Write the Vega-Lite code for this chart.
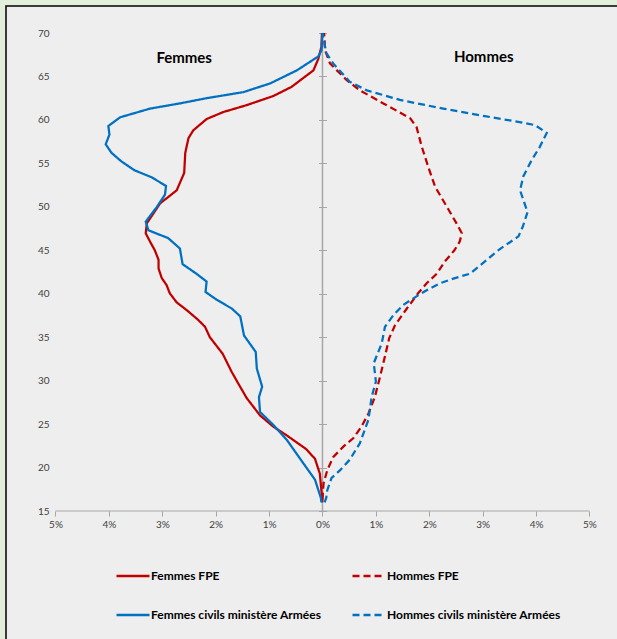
{
  "$schema": "https://vega.github.io/schema/vega-lite/v6.json",
  "width": 616,
  "height": 639,
  "autosize": {"type": "none"},
  "padding": {"left": 6, "top": 6, "right": -5, "bottom": -6},
  "background": "#e2efda",
  "config": {
    "font": "Lato",
    "view": {"fill": "#eeeeee", "stroke": "#000000", "strokeWidth": 1.5},
    "axis": {"grid": false, "labelFont": "Lato", "labelFontSize": 10, "labelColor": "#404040", "tickColor": "#a6a6a6", "domainColor": "#a6a6a6", "title": null},
    "axisX": {"offset": -134, "domain": false, "ticks": true, "tickSize": 5, "tickWidth": 1, "values": [-5, -4, -3, -2, -1, 0, 1, 2, 3, 4, 5], "labelExpr": "abs(datum.value) + '%'", "labelPadding": 3, "labelFlush": false, "labelOverlap": false},
    "legend": {"orient": "none", "legendX": 109, "legendY": 552, "columns": 2, "columnPadding": 25, "rowPadding": 15, "symbolSize": 1089, "symbolStrokeWidth": 2.5, "symbolType": "stroke", "labelFont": "Lato", "labelFontSize": 12, "labelFontWeight": "bold", "labelColor": "#000000", "labelLimit": 300, "labelOffset": 0, "padding": 0}
  },
  "resolve": {"axis": {"y": "independent"}},
  "layer": [
    {
      "data": {"values": [{"x": 0, "ya": 15, "yb": 70}]},
      "mark": {"type": "rule", "color": "#a6a6a6", "strokeWidth": 1.5},
      "encoding": {
        "x": {"field": "x", "type": "quantitative", "scale": {"domain": [-5.927, 5.609], "nice": false, "zero": false}},
        "y": {"field": "ya", "type": "quantitative", "scale": {"domain": [-0.418, 73.107], "nice": false, "zero": false},
          "axis": {"orient": "left", "offset": -50, "domain": false, "ticks": false, "labelPadding": 7, "values": [15, 20, 25, 30, 35, 40, 45, 50, 55, 60, 65, 70]}},
        "y2": {"field": "yb"}
      }
    },
    {
      "data": {"values": [{"xa": -5, "xb": 5, "y": 15}]},
      "mark": {"type": "rule", "color": "#a6a6a6", "strokeWidth": 1},
      "encoding": {
        "x": {"field": "xa", "type": "quantitative"},
        "x2": {"field": "xb"},
        "y": {"field": "y", "type": "quantitative",
          "axis": {"orient": "left", "offset": -316.5, "domain": false, "labels": false, "ticks": true, "tickSize": 4, "values": [15, 20, 25, 30, 35, 40, 45, 50, 55, 60, 65, 70]}}
      }
    },
    {
      "data": {"values": [
        {"label": "Femmes", "x": -2.59, "y": 67.1},
        {"label": "Hommes", "x": 3.02, "y": 67.2}
      ]},
      "mark": {"type": "text", "fontSize": 15, "fontWeight": "bold", "color": "#000000", "font": "Lato"},
      "encoding": {
        "x": {"field": "x", "type": "quantitative"},
        "y": {"field": "y", "type": "quantitative",
          "axis": {"orient": "right", "offset": -299.5, "domain": false, "labels": false, "ticks": true, "tickSize": 4, "values": [15, 20, 25, 30, 35, 40, 45, 50, 55, 60, 65, 70]}},
        "text": {"field": "label"}
      }
    },
    {
      "data": {"values": [
        {"serie": "Femmes FPE", "age": 70, "pct": -0.01},
        {"serie": "Femmes FPE", "age": 68.4, "pct": -0.02},
        {"serie": "Femmes FPE", "age": 67, "pct": -0.08},
        {"serie": "Femmes FPE", "age": 65.7, "pct": -0.17},
        {"serie": "Femmes FPE", "age": 63.8, "pct": -0.58},
        {"serie": "Femmes FPE", "age": 62.75, "pct": -0.92},
        {"serie": "Femmes FPE", "age": 61.7, "pct": -1.42},
        {"serie": "Femmes FPE", "age": 60.9, "pct": -1.86},
        {"serie": "Femmes FPE", "age": 60.1, "pct": -2.17},
        {"serie": "Femmes FPE", "age": 58.8, "pct": -2.42},
        {"serie": "Femmes FPE", "age": 57.9, "pct": -2.51},
        {"serie": "Femmes FPE", "age": 56.2, "pct": -2.57},
        {"serie": "Femmes FPE", "age": 53.9, "pct": -2.59},
        {"serie": "Femmes FPE", "age": 51.9, "pct": -2.73},
        {"serie": "Femmes FPE", "age": 50.4, "pct": -3.04},
        {"serie": "Femmes FPE", "age": 48.1, "pct": -3.29},
        {"serie": "Femmes FPE", "age": 46.95, "pct": -3.31},
        {"serie": "Femmes FPE", "age": 46.0, "pct": -3.23},
        {"serie": "Femmes FPE", "age": 45.0, "pct": -3.14},
        {"serie": "Femmes FPE", "age": 43.9, "pct": -3.07},
        {"serie": "Femmes FPE", "age": 42.9, "pct": -3.07},
        {"serie": "Femmes FPE", "age": 41.8, "pct": -3.01},
        {"serie": "Femmes FPE", "age": 41.0, "pct": -2.92},
        {"serie": "Femmes FPE", "age": 40.05, "pct": -2.86},
        {"serie": "Femmes FPE", "age": 39.0, "pct": -2.73},
        {"serie": "Femmes FPE", "age": 38.1, "pct": -2.54},
        {"serie": "Femmes FPE", "age": 37.0, "pct": -2.33},
        {"serie": "Femmes FPE", "age": 36.2, "pct": -2.2},
        {"serie": "Femmes FPE", "age": 35.0, "pct": -2.11},
        {"serie": "Femmes FPE", "age": 33.1, "pct": -1.87},
        {"serie": "Femmes FPE", "age": 31.0, "pct": -1.7},
        {"serie": "Femmes FPE", "age": 29.7, "pct": -1.58},
        {"serie": "Femmes FPE", "age": 28.0, "pct": -1.42},
        {"serie": "Femmes FPE", "age": 26.0, "pct": -1.17},
        {"serie": "Femmes FPE", "age": 24.7, "pct": -0.92},
        {"serie": "Femmes FPE", "age": 23.7, "pct": -0.67},
        {"serie": "Femmes FPE", "age": 22.1, "pct": -0.3},
        {"serie": "Femmes FPE", "age": 21.0, "pct": -0.14},
        {"serie": "Femmes FPE", "age": 19.3, "pct": -0.05},
        {"serie": "Femmes FPE", "age": 16.0, "pct": 0.0},

        {"serie": "Hommes FPE", "age": 70, "pct": 0.03},
        {"serie": "Hommes FPE", "age": 68, "pct": 0.05},
        {"serie": "Hommes FPE", "age": 66.5, "pct": 0.14},
        {"serie": "Hommes FPE", "age": 64.6, "pct": 0.45},
        {"serie": "Hommes FPE", "age": 63.4, "pct": 0.7},
        {"serie": "Hommes FPE", "age": 61.9, "pct": 1.14},
        {"serie": "Hommes FPE", "age": 60.2, "pct": 1.64},
        {"serie": "Hommes FPE", "age": 59.2, "pct": 1.76},
        {"serie": "Hommes FPE", "age": 56.9, "pct": 1.86},
        {"serie": "Hommes FPE", "age": 54.6, "pct": 1.98},
        {"serie": "Hommes FPE", "age": 52.3, "pct": 2.11},
        {"serie": "Hommes FPE", "age": 50.0, "pct": 2.33},
        {"serie": "Hommes FPE", "age": 48.1, "pct": 2.51},
        {"serie": "Hommes FPE", "age": 46.95, "pct": 2.61},
        {"serie": "Hommes FPE", "age": 46.0, "pct": 2.57},
        {"serie": "Hommes FPE", "age": 45.0, "pct": 2.47},
        {"serie": "Hommes FPE", "age": 43.7, "pct": 2.29},
        {"serie": "Hommes FPE", "age": 42.3, "pct": 2.14},
        {"serie": "Hommes FPE", "age": 41.2, "pct": 1.95},
        {"serie": "Hommes FPE", "age": 40.05, "pct": 1.79},
        {"serie": "Hommes FPE", "age": 38.3, "pct": 1.58},
        {"serie": "Hommes FPE", "age": 36.4, "pct": 1.36},
        {"serie": "Hommes FPE", "age": 34.9, "pct": 1.25},
        {"serie": "Hommes FPE", "age": 32.8, "pct": 1.17},
        {"serie": "Hommes FPE", "age": 30.5, "pct": 1.08},
        {"serie": "Hommes FPE", "age": 28.1, "pct": 0.98},
        {"serie": "Hommes FPE", "age": 26.2, "pct": 0.86},
        {"serie": "Hommes FPE", "age": 24.7, "pct": 0.73},
        {"serie": "Hommes FPE", "age": 23.4, "pct": 0.58},
        {"serie": "Hommes FPE", "age": 22.4, "pct": 0.39},
        {"serie": "Hommes FPE", "age": 21.2, "pct": 0.2},
        {"serie": "Hommes FPE", "age": 19.7, "pct": 0.09},
        {"serie": "Hommes FPE", "age": 18.2, "pct": 0.02},
        {"serie": "Hommes FPE", "age": 16.3, "pct": 0.0},

        {"serie": "Femmes civils ministère Armées", "age": 70, "pct": 0.0},
        {"serie": "Femmes civils ministère Armées", "age": 68, "pct": -0.02},
        {"serie": "Femmes civils ministère Armées", "age": 67.3, "pct": -0.08},
        {"serie": "Femmes civils ministère Armées", "age": 65.7, "pct": -0.48},
        {"serie": "Femmes civils ministère Armées", "age": 64.2, "pct": -0.98},
        {"serie": "Femmes civils ministère Armées", "age": 63.2, "pct": -1.48},
        {"serie": "Femmes civils ministère Armées", "age": 62.5, "pct": -2.17},
        {"serie": "Femmes civils ministère Armées", "age": 61.9, "pct": -2.67},
        {"serie": "Femmes civils ministère Armées", "age": 61.3, "pct": -3.23},
        {"serie": "Femmes civils ministère Armées", "age": 60.3, "pct": -3.79},
        {"serie": "Femmes civils ministère Armées", "age": 59.3, "pct": -4.01},
        {"serie": "Femmes civils ministère Armées", "age": 58.3, "pct": -3.99},
        {"serie": "Femmes civils ministère Armées", "age": 57.2, "pct": -4.06},
        {"serie": "Femmes civils ministère Armées", "age": 56.2, "pct": -3.95},
        {"serie": "Femmes civils ministère Armées", "age": 55.2, "pct": -3.76},
        {"serie": "Femmes civils ministère Armées", "age": 54.2, "pct": -3.52},
        {"serie": "Femmes civils ministère Armées", "age": 53.4, "pct": -3.2},
        {"serie": "Femmes civils ministère Armées", "age": 52.4, "pct": -2.93},
        {"serie": "Femmes civils ministère Armées", "age": 51.4, "pct": -2.95},
        {"serie": "Femmes civils ministère Armées", "age": 50.0, "pct": -3.1},
        {"serie": "Femmes civils ministère Armées", "age": 48.3, "pct": -3.31},
        {"serie": "Femmes civils ministère Armées", "age": 47.3, "pct": -3.26},
        {"serie": "Femmes civils ministère Armées", "age": 46.4, "pct": -2.89},
        {"serie": "Femmes civils ministère Armées", "age": 45.2, "pct": -2.67},
        {"serie": "Femmes civils ministère Armées", "age": 43.4, "pct": -2.62},
        {"serie": "Femmes civils ministère Armées", "age": 42.3, "pct": -2.36},
        {"serie": "Femmes civils ministère Armées", "age": 41.4, "pct": -2.17},
        {"serie": "Femmes civils ministère Armées", "age": 40.2, "pct": -2.19},
        {"serie": "Femmes civils ministère Armées", "age": 39.3, "pct": -1.98},
        {"serie": "Femmes civils ministère Armées", "age": 38.3, "pct": -1.7},
        {"serie": "Femmes civils ministère Armées", "age": 37.4, "pct": -1.54},
        {"serie": "Femmes civils ministère Armées", "age": 35.2, "pct": -1.47},
        {"serie": "Femmes civils ministère Armées", "age": 33.3, "pct": -1.25},
        {"serie": "Femmes civils ministère Armées", "age": 31.4, "pct": -1.23},
        {"serie": "Femmes civils ministère Armées", "age": 29.3, "pct": -1.13},
        {"serie": "Femmes civils ministère Armées", "age": 28.1, "pct": -1.19},
        {"serie": "Femmes civils ministère Armées", "age": 26.4, "pct": -1.17},
        {"serie": "Femmes civils ministère Armées", "age": 24.9, "pct": -0.92},
        {"serie": "Femmes civils ministère Armées", "age": 23.2, "pct": -0.67},
        {"serie": "Femmes civils ministère Armées", "age": 20.5, "pct": -0.36},
        {"serie": "Femmes civils ministère Armées", "age": 18.6, "pct": -0.14},
        {"serie": "Femmes civils ministère Armées", "age": 16.5, "pct": -0.03},
        {"serie": "Femmes civils ministère Armées", "age": 16.0, "pct": -0.02},

        {"serie": "Hommes civils ministère Armées", "age": 70, "pct": 0.0},
        {"serie": "Hommes civils ministère Armées", "age": 67.7, "pct": 0.07},
        {"serie": "Hommes civils ministère Armées", "age": 66.5, "pct": 0.2},
        {"serie": "Hommes civils ministère Armées", "age": 64.4, "pct": 0.51},
        {"serie": "Hommes civils ministère Armées", "age": 63.4, "pct": 0.83},
        {"serie": "Hommes civils ministère Armées", "age": 62.3, "pct": 1.45},
        {"serie": "Hommes civils ministère Armées", "age": 61.3, "pct": 2.26},
        {"serie": "Hommes civils ministère Armées", "age": 60.4, "pct": 3.07},
        {"serie": "Hommes civils ministère Armées", "age": 59.8, "pct": 3.64},
        {"serie": "Hommes civils ministère Armées", "age": 59.4, "pct": 3.98},
        {"serie": "Hommes civils ministère Armées", "age": 58.5, "pct": 4.2},
        {"serie": "Hommes civils ministère Armées", "age": 56.9, "pct": 4.07},
        {"serie": "Hommes civils ministère Armées", "age": 55.4, "pct": 3.92},
        {"serie": "Hommes civils ministère Armées", "age": 53.5, "pct": 3.76},
        {"serie": "Hommes civils ministère Armées", "age": 51.9, "pct": 3.7},
        {"serie": "Hommes civils ministère Armées", "age": 49.4, "pct": 3.84},
        {"serie": "Hommes civils ministère Armées", "age": 47.7, "pct": 3.75},
        {"serie": "Hommes civils ministère Armées", "age": 46.6, "pct": 3.67},
        {"serie": "Hommes civils ministère Armées", "age": 45.0, "pct": 3.29},
        {"serie": "Hommes civils ministère Armées", "age": 43.3, "pct": 2.96},
        {"serie": "Hommes civils ministère Armées", "age": 42.3, "pct": 2.76},
        {"serie": "Hommes civils ministère Armées", "age": 41.8, "pct": 2.48},
        {"serie": "Hommes civils ministère Armées", "age": 41.2, "pct": 2.2},
        {"serie": "Hommes civils ministère Armées", "age": 40.5, "pct": 1.98},
        {"serie": "Hommes civils ministère Armées", "age": 39.7, "pct": 1.76},
        {"serie": "Hommes civils ministère Armées", "age": 38.7, "pct": 1.51},
        {"serie": "Hommes civils ministère Armées", "age": 37.55, "pct": 1.33},
        {"serie": "Hommes civils ministère Armées", "age": 36.2, "pct": 1.17},
        {"serie": "Hommes civils ministère Armées", "age": 34.3, "pct": 1.11},
        {"serie": "Hommes civils ministère Armées", "age": 32.0, "pct": 0.96},
        {"serie": "Hommes civils ministère Armées", "age": 29.9, "pct": 1.0},
        {"serie": "Hommes civils ministère Armées", "age": 28.1, "pct": 0.92},
        {"serie": "Hommes civils ministère Armées", "age": 25.5, "pct": 0.86},
        {"serie": "Hommes civils ministère Armées", "age": 22.8, "pct": 0.7},
        {"serie": "Hommes civils ministère Armées", "age": 20.9, "pct": 0.51},
        {"serie": "Hommes civils ministère Armées", "age": 19.7, "pct": 0.33},
        {"serie": "Hommes civils ministère Armées", "age": 18.8, "pct": 0.17},
        {"serie": "Hommes civils ministère Armées", "age": 17.4, "pct": 0.09},
        {"serie": "Hommes civils ministère Armées", "age": 16.5, "pct": 0.07},
        {"serie": "Hommes civils ministère Armées", "age": 16.0, "pct": 0.04}
      ]},
      "mark": {"type": "line", "strokeWidth": 2.25, "interpolate": "linear"},
      "encoding": {
        "x": {"field": "pct", "type": "quantitative"},
        "y": {"field": "age", "type": "quantitative", "axis": null},
        "order": {"field": "age", "type": "quantitative"},
        "color": {"field": "serie", "type": "nominal", "title": null,
          "scale": {"domain": ["Femmes FPE", "Femmes civils ministère Armées", "Hommes FPE", "Hommes civils ministère Armées"], "range": ["#c00000", "#0070c0", "#c00000", "#0070c0"]}},
        "strokeDash": {"field": "serie", "type": "nominal", "title": null,
          "scale": {"domain": ["Femmes FPE", "Femmes civils ministère Armées", "Hommes FPE", "Hommes civils ministère Armées"], "range": [[1, 0], [1, 0], [7, 4], [7, 4]]}}
      }
    }
  ]
}
